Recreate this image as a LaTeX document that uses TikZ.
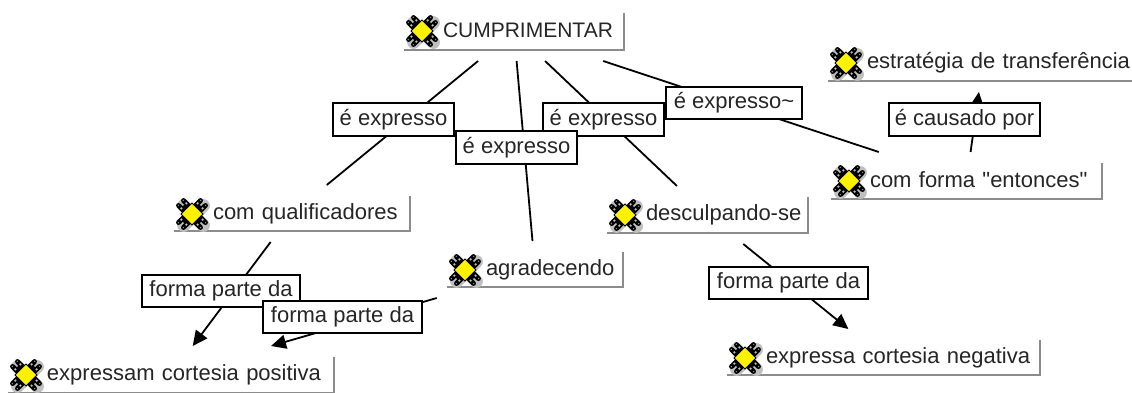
\documentclass[tikz,border=0pt]{standalone}
\usepackage{fontspec}
\setmainfont{Liberation Sans}[Ligatures=TeXOff]
\usetikzlibrary{arrows.meta}
\tikzset{
  x=1pt,y=-1pt,
  every node/.style={font=\fontsize{22}{26}\selectfont,text=black!85},
  concept/.style={rectangle,inner sep=0pt,outer sep=11pt,align=left},
  linkbox/.style={rectangle,draw=black,line width=2pt,fill=white,inner sep=0pt,outer sep=0pt,minimum height=31pt,align=center},
  edge/.style={draw=black!45,line width=2pt},
  conn/.style={draw=black,line width=1.8pt},
  arrowconn/.style={conn,-{Triangle[length=15pt,width=14pt]}},
  gem/.pic={
    \foreach \a in {45,135,225,315}{
      \begin{scope}[shift={(1.5,1.5)},rotate=\a]
        \draw[black!25,line width=13pt,line cap=round] (0,0) -- (14,0);
      \end{scope}
    }
    \foreach \a in {45,135,225,315}{
      \begin{scope}[rotate=\a]
        \draw[black,line width=5pt,line cap=round] (4,-3.5) -- (15.5,-3.5);
        \draw[black,line width=5pt,line cap=round] (4,3.5) -- (15.5,3.5);
        \draw[black,line width=7pt] (0,0) -- (12,0);
        \draw[white!75!black,line width=1.6pt,dash pattern=on 2pt off 3pt] (10.5,-3.5) -- (16,-3.5);
        \draw[white!75!black,line width=1.6pt,dash pattern=on 2pt off 3pt] (10.5,3.5) -- (16,3.5);
      \end{scope}
    }
    \fill[yellow,draw=black,line width=.8pt] (-11,0) -- (0,-11) -- (11,0) -- (0,11) -- cycle;
  }
}
\newcommand{\conceptnode}[6]{% name, L, T, R, B, text
  \pgfmathsetmacro{\cw}{#4-#2}
  \pgfmathsetmacro{\ch}{#5-#3}
  \pgfmathsetmacro{\cx}{(#4+#2)/2}
  \pgfmathsetmacro{\cy}{(#5+#3)/2}
  \node[concept,text width=\cw pt,minimum height=\ch pt] (#1) at (\cx,\cy)
    {\hspace*{39pt}\rule[-3pt]{0pt}{17pt}#6};
  \draw[edge] (#4,#3) -- (#4,#5) -- (#2,#5);
  \pgfmathsetmacro{\ix}{#2+18}
  \pgfmathsetmacro{\iy}{#3+18}
  \pic at (\ix,\iy) {gem};
}
\newcommand{\linknode}[6]{% name, L, T, R, B, text
  \pgfmathsetmacro{\cw}{#4-#2}
  \pgfmathsetmacro{\ch}{#5-#3}
  \pgfmathsetmacro{\cx}{(#4+#2)/2}
  \pgfmathsetmacro{\cy}{(#5+#3)/2}
  \node[linkbox,minimum width=\cw pt,minimum height=\ch pt] (#1) at (\cx,\cy)
    {\rule[-2pt]{0pt}{18pt}#6};
}
\begin{document}
\begin{tikzpicture}
\clip (0,0) rectangle (1132,392);
\fill[white] (0,0) rectangle (1132,392);
\conceptnode{cump}{404}{13}{624}{50}{{\fontsize{21}{26}\selectfont CUMPRIMENTAR}}
\conceptnode{estr}{828}{45}{1138}{81}{estratégia de transferência}
\conceptnode{ent}{831}{163}{1102}{199}{com forma "entonces"}
\conceptnode{qual}{174}{196}{410}{231}{com qualificadores}
\conceptnode{desc}{607}{197}{808}{233}{desculpando-se}
\conceptnode{agr}{447}{252}{623}{287}{agradecendo}
\conceptnode{neg}{727}{340}{1040}{375}{expressa cortesia negativa}
\conceptnode{pos}{8}{357}{334}{393}{expressam cortesia positiva}
\draw[conn] (cump) -- (qual);
\draw[conn] (cump) -- (agr);
\draw[conn] (cump) -- (desc);
\draw[conn] (cump) -- (ent);
\draw[arrowconn] (ent) -- (estr);
\draw[arrowconn] (qual) -- (pos);
\draw[arrowconn] (agr) -- (pos);
\draw[arrowconn] (desc) -- (neg);
\linknode{l1}{333}{103}{454}{136}{é expresso}
\linknode{l3}{543}{103}{664}{136}{é expresso}
\linknode{l2}{456}{131}{577}{164}{é expresso}
\linknode{l4}{666}{87}{802}{119}{é expresso\textasciitilde}
\linknode{l5}{889}{103}{1040}{136}{é causado por}
\linknode{f1}{142}{275}{300}{307}{forma parte da}
\linknode{f2}{263}{301}{422}{333}{forma parte da}
\linknode{f3}{709}{267}{868}{299}{forma parte da}
\end{tikzpicture}
\end{document}
